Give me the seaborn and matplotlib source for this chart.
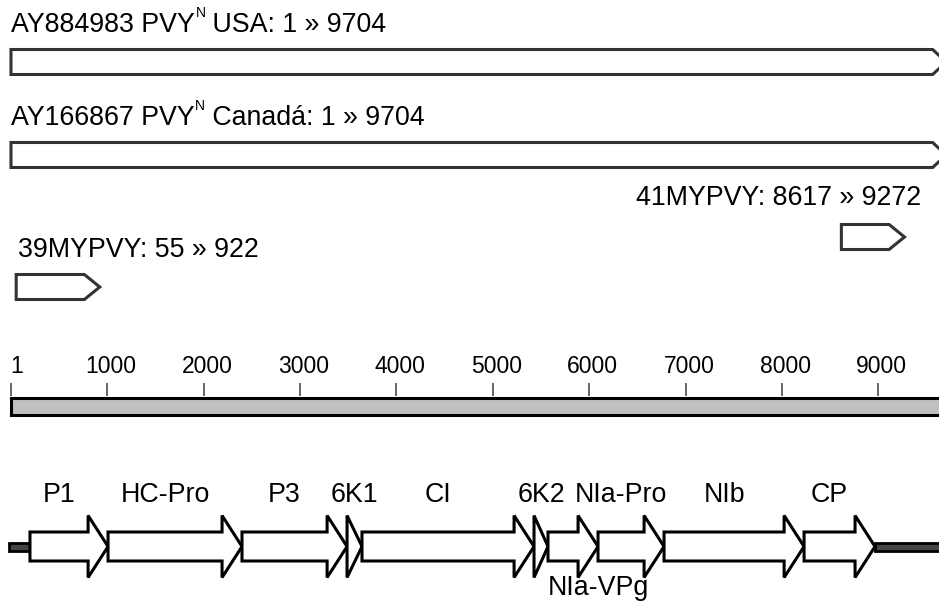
import matplotlib
matplotlib.use('Agg')
import matplotlib.pyplot as plt
from matplotlib.patches import Polygon, Rectangle
import seaborn as sns

# genome / clone coverage (nt)
genome_ids = ['AY884983', 'AY166867']
genome_origin = ['USA', 'Canadá']
genome_starts = [1, 1]
genome_ends = [9704, 9704]

clone_names = ['41MYPVY', '39MYPVY']
clone_starts = [8617, 55]
clone_ends = [9272, 922]

ruler_ticks = [1, 1000, 2000, 3000, 4000, 5000, 6000, 7000, 8000, 9000]
ruler_labels = ['1', '1000', '2000', '3000', '4000', '5000', '6000', '7000', '8000', '9000']

genes = ['P1', 'HC-Pro', 'P3', '6K1', 'CI', '6K2', 'NIa-VPg', 'NIa-Pro', 'NIb', 'CP']
gene_starts = [198, 1008, 2398, 3488, 3643, 5428, 5573, 6092, 6777, 8230]
gene_ends = [1008, 2398, 3488, 3643, 5428, 5573, 6092, 6777, 8230, 8966]
genome_len = 9704

sns.set_theme(style='white')
plt.rcParams['font.family'] = ['Liberation Sans', 'DejaVu Sans']
plt.rcParams['text.color'] = 'black'

fig = plt.figure(figsize=(9.39, 6.03), dpi=100)
ax = fig.add_axes([0, 0, 1, 1])
ax.set_xlim(-113, 9630)
ax.set_ylim(603, 0)
ax.axis('off')

FS = 19.3
LW = 2.2


def pentagon(x0, x1, yc, half, head):
    xh = x1 - min(head, x1 - x0)
    return [(x0, yc - half), (xh, yc - half), (x1, yc), (xh, yc + half), (x0, yc + half)]


def gene_arrow(x0, x1, yc, hb, hh, head):
    xh = x1 - min(head, x1 - x0)
    return [(x0, yc - hb), (xh, yc - hb), (xh, yc - hh), (x1, yc),
            (xh, yc + hh), (xh, yc + hb), (x0, yc + hb)]


# full genome sequences
for i, (gid, org, s, e) in enumerate(zip(genome_ids, genome_origin, genome_starts, genome_ends)):
    yc = 62 + i * 93
    t1 = ax.text(s, yc - 30, f'{gid} PVY', fontsize=FS, ha='left', va='baseline')
    sup = ax.annotate('N', xy=(1, 1), xycoords=t1, xytext=(0.5, 4.5),
                      textcoords='offset points', fontsize=10, ha='left', va='top')
    ax.annotate(f' {org}: {s} » {e}', xy=(1, 0), xycoords=(sup, t1),
                fontsize=FS, ha='left', va='bottom')
    ax.add_patch(Polygon(pentagon(s, e, yc, 12.5, 140), closed=True, fc='white',
                         ec='#333333', lw=LW, joinstyle='miter'))

# clones
clone_y = [237, 287]
for name, s, e, yc in zip(clone_names, clone_starts, clone_ends, clone_y):
    ax.add_patch(Polygon(pentagon(s, e, yc, 12.5, 160), closed=True, fc='white',
                         ec='#333333', lw=LW, joinstyle='miter'))
    txt = f'{name}: {s} » {e}'
    if s > genome_len / 2:
        ax.text(e + 170, yc - 32, txt, fontsize=FS, ha='right', va='baseline')
    else:
        ax.text(s + 20, yc - 30, txt, fontsize=FS, ha='left', va='baseline')

# ruler
ax.add_patch(Rectangle((1, 397.5), genome_len + 200, 17, fc='#c0c0c0', ec='black', lw=LW))
ax.vlines(ruler_ticks, 383, 396, color='#666666', lw=1.4)
for t, lab in zip(ruler_ticks, ruler_labels):
    if t == 1:
        ax.text(t - 10, 373, lab, fontsize=16.5, ha='left', va='baseline')
    else:
        ax.text(t + 35, 373, lab, fontsize=16.5, ha='center', va='baseline')

# genome organisation
yc = 546.5
ax.add_patch(Rectangle((-15, yc - 4), gene_starts[0] + 15, 8, fc='#444444', ec='black', lw=2))
ax.add_patch(Rectangle((gene_ends[-1], yc - 4), genome_len - gene_ends[-1] + 200, 8,
                       fc='#444444', ec='black', lw=2))
for g, s, e in zip(genes, gene_starts, gene_ends):
    ax.add_patch(Polygon(gene_arrow(s, e, yc, 14.5, 31, 207), closed=True, fc='white',
                         ec='black', lw=LW, joinstyle='miter'))
    body_mid = (s + e - 207) / 2 if e - s > 207 else (s + e) / 2
    if g == 'NIa-VPg':
        ax.text(e, 595, g, fontsize=FS, ha='center', va='baseline')
    else:
        ax.text(body_mid, 502, g, fontsize=FS, ha='center', va='baseline')

fig.savefig('out.png', dpi=100, facecolor='white')
